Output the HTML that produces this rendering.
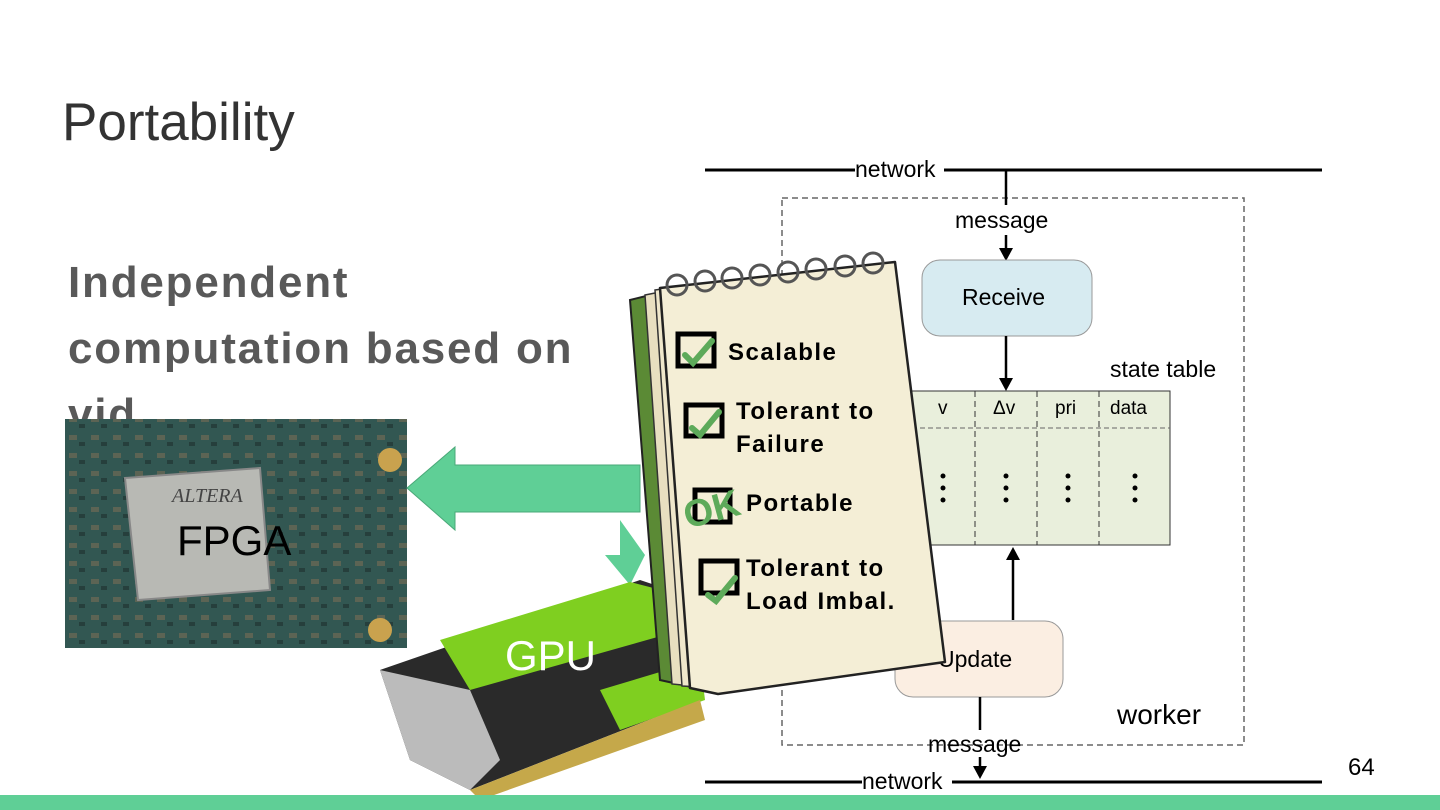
<!DOCTYPE html>
<html><head><meta charset="utf-8"><style>
html,body{margin:0;padding:0;background:#fff;}
body{width:1440px;height:810px;position:relative;overflow:hidden;font-family:"Liberation Sans",sans-serif;}
.t{position:absolute;white-space:nowrap;}
</style></head><body>
<div class="t" style="left:62px;top:92px;font-size:53px;color:#333;">Portability</div>
<div class="t" style="left:68px;top:250px;font-size:44px;font-weight:bold;color:#595959;line-height:66px;letter-spacing:1.8px;">Independent<br>computation based on<br>vid</div>

<svg width="1440" height="810" style="position:absolute;left:0;top:0" xmlns="http://www.w3.org/2000/svg">
<defs><pattern id="pcb" width="22" height="18" patternUnits="userSpaceOnUse"><rect width="22" height="18" fill="#355f58"/><rect x="3" y="3" width="8" height="5" fill="#8a7a5e"/><rect x="13" y="10" width="6" height="4" fill="#1e2e2c"/></pattern></defs>
<rect x="65" y="419" width="342" height="229" fill="#2f4f4b"/>
<rect x="65" y="419" width="342" height="229" fill="url(#pcb)" opacity="0.5"/>
<polygon points="125,478 260,468 270,590 138,600" fill="#b8b9b4" stroke="#888" stroke-width="2"/>
<text x="172" y="502" font-family="Liberation Serif" font-size="20" font-style="italic" fill="#444">ALTERA</text>
<text x="177" y="555" font-family="Liberation Sans" font-size="42" fill="#000">FPGA</text>
<circle cx="390" cy="460" r="12" fill="#c9a24e"/><circle cx="380" cy="630" r="12" fill="#c9a24e"/>
<polygon points="640,465 455,465 455,447 407,488 455,530 455,512 640,512" fill="#5fcf96" stroke="#4aa878" stroke-width="1"/>
<polygon points="620,520 620,555 605,555 630,585 645,555" fill="#5fcf96"/>
<polygon points="380,670 640,580 700,600 700,700 470,790 410,760" fill="#2a2a2a"/>
<polygon points="440,640 630,582 700,600 700,625 470,690" fill="#7fcf20"/>
<polygon points="600,690 700,660 705,700 620,730" fill="#7fcf20"/>
<polygon points="380,670 470,690 500,760 470,790 410,760" fill="#bbb"/>
<polygon points="470,790 700,700 705,720 480,800" fill="#c5a84a"/>
<text x="505" y="670" font-family="Liberation Sans" font-size="42" fill="#fff">GPU</text>
<line x1="705" y1="170" x2="855" y2="170" stroke="#000" stroke-width="3"/>
<line x1="944" y1="170" x2="1322" y2="170" stroke="#000" stroke-width="3"/>
<text x="855" y="177" font-size="23" fill="#000">network</text>
<rect x="782" y="198" width="462" height="547" fill="none" stroke="#666" stroke-width="1.5" stroke-dasharray="6,4"/>
<line x1="1006" y1="170" x2="1006" y2="205" stroke="#000" stroke-width="2.5"/>
<text x="955" y="228" font-size="23">message</text>
<line x1="1006" y1="235" x2="1006" y2="250" stroke="#000" stroke-width="2.5"/>
<polygon points="999,248 1013,248 1006,261" fill="#000"/>
<rect x="922" y="260" width="170" height="76" rx="18" fill="#d7ebf1" stroke="#999"/>
<text x="962" y="305" font-size="23">Receive</text>
<line x1="1006" y1="336" x2="1006" y2="380" stroke="#000" stroke-width="2.5"/>
<polygon points="999,378 1013,378 1006,391" fill="#000"/>
<text x="1110" y="377" font-size="23">state table</text>
<rect x="880" y="391" width="290" height="154" fill="#e9efdc" stroke="#333"/>
<line x1="880" y1="428" x2="1170" y2="428" stroke="#666" stroke-dasharray="5,3"/>
<line x1="975" y1="391" x2="975" y2="545" stroke="#333" stroke-dasharray="6,4"/>
<line x1="1037" y1="391" x2="1037" y2="545" stroke="#333" stroke-dasharray="6,4"/>
<line x1="1099" y1="391" x2="1099" y2="545" stroke="#333" stroke-dasharray="6,4"/>
<text x="938" y="414" font-size="19">v</text><text x="993" y="414" font-size="19">Δv</text>
<text x="1055" y="414" font-size="19">pri</text><text x="1110" y="414" font-size="19">data</text>
<g fill="#000"><circle cx="943" cy="476" r="2.5"/><circle cx="943" cy="488" r="2.5"/><circle cx="943" cy="500" r="2.5"/>
<circle cx="1006" cy="476" r="2.5"/><circle cx="1006" cy="488" r="2.5"/><circle cx="1006" cy="500" r="2.5"/>
<circle cx="1068" cy="476" r="2.5"/><circle cx="1068" cy="488" r="2.5"/><circle cx="1068" cy="500" r="2.5"/>
<circle cx="1135" cy="476" r="2.5"/><circle cx="1135" cy="488" r="2.5"/><circle cx="1135" cy="500" r="2.5"/></g>
<line x1="1013" y1="620" x2="1013" y2="558" stroke="#000" stroke-width="2.5"/>
<polygon points="1006,560 1020,560 1013,547" fill="#000"/>
<rect x="895" y="621" width="168" height="76" rx="18" fill="#fbeee2" stroke="#999"/>
<text x="938" y="667" font-size="23">Update</text>
<text x="1117" y="724" font-size="28">worker</text>
<line x1="980" y1="697" x2="980" y2="730" stroke="#000" stroke-width="2.5"/>
<text x="928" y="752" font-size="23">message</text>
<line x1="980" y1="757" x2="980" y2="768" stroke="#000" stroke-width="2.5"/>
<polygon points="973,766 987,766 980,779" fill="#000"/>
<line x1="705" y1="782" x2="862" y2="782" stroke="#000" stroke-width="3"/>
<line x1="952" y1="782" x2="1322" y2="782" stroke="#000" stroke-width="3"/>
<text x="862" y="789" font-size="23">network</text>
<text x="1348" y="775" font-size="24">64</text>
<polygon points="630,300 670,290 705,690 660,680" fill="#5b8a35" stroke="#222" stroke-width="2"/>
<polygon points="645,295 680,288 712,688 672,684" fill="#e8dfc0" stroke="#333" stroke-width="1.5"/>
<polygon points="655,290 690,285 718,688 682,686" fill="#efe7cb" stroke="#333" stroke-width="1.5"/>
<polygon points="660,288 895,262 945,662 718,694 690,688" fill="#f4eed6" stroke="#222" stroke-width="2.5" stroke-linejoin="round"/>
<g fill="none" stroke="#555" stroke-width="3">
<circle cx="677" cy="285" r="10"/><circle cx="705" cy="281" r="10"/><circle cx="732" cy="278" r="10"/><circle cx="760" cy="275" r="10"/><circle cx="788" cy="272" r="10"/><circle cx="816" cy="269" r="10"/><circle cx="845" cy="266" r="10"/><circle cx="873" cy="263" r="10"/></g>
<g fill="none" stroke="#000" stroke-width="5">
<rect x="678" y="334" width="36" height="32"/><rect x="686" y="405" width="36" height="31"/><rect x="695" y="490" width="35" height="32"/><rect x="701" y="561" width="36" height="32"/></g>
<g fill="none" stroke="#5daa5a" stroke-width="6" stroke-linecap="round">
<path d="M685,355 L693,363 L712,341"/><path d="M692,428 L700,435 L719,412"/><path d="M708,595 L716,601 L735,578"/></g>
<text x="683" y="525" font-size="38" fill="#5daa5a" transform="rotate(-15 700 510)" font-weight="bold">OK</text>
<g font-size="24" font-weight="bold" fill="#000" letter-spacing="1.5">
<text x="728" y="360">Scalable</text>
<text x="736" y="419">Tolerant to</text><text x="736" y="452">Failure</text>
<text x="746" y="511">Portable</text>
<text x="746" y="576">Tolerant to</text><text x="746" y="609">Load Imbal.</text></g>
<rect x="0" y="795" width="1440" height="15" fill="#5fcf96"/>
</svg>
</body></html>
